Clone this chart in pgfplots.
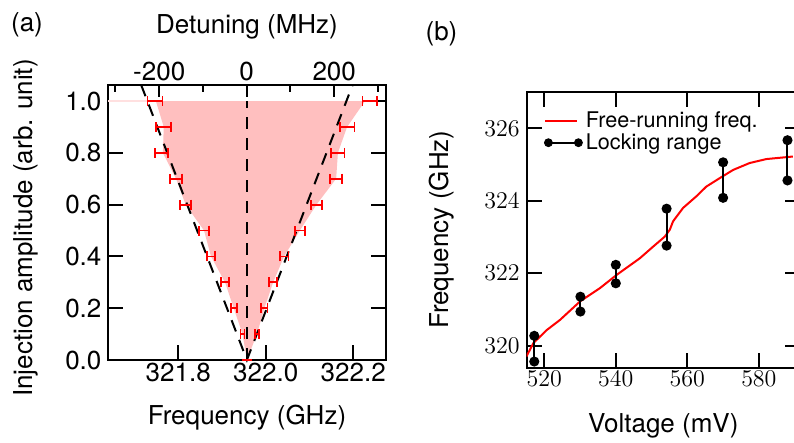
\documentclass[border=0pt]{standalone}
\usepackage{fontspec}
\setmainfont{TeX Gyre Heros}
\usepackage{pgfplots}
\pgfplotsset{compat=1.18}
\newcommand\fs{\fontsize{13}{13}\selectfont}
\newcommand\fl{\fontsize{10.8}{10.8}\selectfont}

\pgfplotsset{
  panel/.style={
    scale only axis,
    axis line style={line width=1pt},
    every tick/.style={black, line width=1pt},
    tick align=inside,
    tick label style={font=\fs},
    label style={font=\fs},
  },
}

\begin{document}
\begin{tikzpicture}
\useasboundingbox (0,0) rectangle (397pt,221.5pt);

\node[font=\fs] at (13.5pt,209.25pt) {(a)};
\node[font=\fs] at (220.75pt,204.75pt) {(b)};

% ---- (a) injection locking range vs amplitude
\begin{axis}[
  panel,
  at={(54.25pt,41.5pt)}, anchor=south west,
  width=138.5pt, height=137.5pt,
  xmin=321.6407, xmax=322.2738, ymin=0, ymax=1.062,
  xtick={321.8,322.0,322.2}, xticklabels={321.8,322.0,322.2},
  xtick pos=left,
  xticklabel style={yshift=2pt},
  ytick={0,0.2,0.4,0.6,0.8,1.0}, yticklabels={0.0,0.2,0.4,0.6,0.8,1.0},
  major tick length=7.5pt,
  xlabel={Frequency (GHz)}, ylabel={Injection amplitude (arb. unit)},
  xlabel style={at={(axis description cs:0.5,-0.208)}, anchor=center},
  ylabel style={at={(axis description cs:-0.30,0.48)}, anchor=center},
  clip=false,
]
% locking region
\addplot[fill=red!25, draw=none] coordinates {
  (321.749,1.0) (321.767,0.9) (321.765,0.8) (321.795,0.7) (321.817,0.6)
  (321.859,0.5) (321.875,0.4) (321.907,0.3) (321.927,0.2) (321.947,0.1)
  (321.957,0)
  (321.980,0.1) (321.997,0.2) (322.017,0.3) (322.042,0.4) (322.078,0.5)
  (322.116,0.6) (322.161,0.7) (322.165,0.8) (322.186,0.9) (322.227,1.0)
} -- cycle;
\addplot[red!12, line width=0.6pt] coordinates {(321.6407,1.0) (321.749,1.0)};

% guide lines
\addplot[black, line width=1pt, dash pattern=on 6pt off 4.5pt] coordinates {
  (321.7154,1.062) (321.957,0) (322.1986,1.062)};
\addplot[black, line width=1pt, dash pattern=on 6pt off 4.5pt] coordinates {
  (321.957,0) (321.957,1.0)};

% measured edges
\addplot[red, mark=none, draw=none,
  error bars/.cd, x dir=both, x explicit, error mark=|,
  error bar style={red, line width=0.9pt, solid},
  error mark options={red, mark size=2.5pt, line width=0.9pt, solid}]
coordinates {
  (321.747,1.0) +- (0.017,0)
  (321.767,0.9) +- (0.017,0)
  (321.762,0.8) +- (0.015,0)
  (321.795,0.7) +- (0.014,0)
  (321.817,0.6) +- (0.012,0)
  (321.859,0.5) +- (0.011,0)
  (321.875,0.4) +- (0.010,0)
  (321.907,0.3) +- (0.009,0)
  (321.927,0.2) +- (0.007,0)
  (321.947,0.1) +- (0.0045,0)
  (321.957,0.0) +- (0.0,0)
  (322.238,1.0) +- (0.017,0)
  (322.186,0.9) +- (0.017,0)
  (322.165,0.8) +- (0.015,0)
  (322.161,0.7) +- (0.014,0)
  (322.116,0.6) +- (0.012,0)
  (322.078,0.5) +- (0.011,0)
  (322.042,0.4) +- (0.010,0)
  (322.017,0.3) +- (0.009,0)
  (321.997,0.2) +- (0.007,0)
  (321.980,0.1) +- (0.0045,0)
};
\end{axis}

% detuning axis on top
\begin{axis}[
  panel,
  at={(54.25pt,41.5pt)}, anchor=south west,
  width=138.5pt, height=137.5pt,
  xmin=-315.9, xmax=317.2, ymin=0, ymax=1,
  axis x line*=top, axis y line=none,
  xtick={-200,0,200}, xticklabels={-200,0,200},
  xticklabel style={yshift=-1.5pt},
  minor xtick={-300,-100,100,300},
  major tick length=6pt, minor tick length=3.5pt,
  xlabel={Detuning (MHz)},
  xlabel style={at={(axis description cs:0.5,1.21)}, anchor=center},
]
\end{axis}

% ---- (b) frequency vs voltage
\begin{axis}[
  panel,
  at={(263.35pt,37.65pt)}, anchor=south west,
  width=136.65pt, height=138pt,
  xmin=515.08, xmax=591.5, ymin=319.39, ymax=327.01,
  xtick={520,540,560,580}, ytick={320,322,324,326},
  xticklabel style={yshift=2pt},
  major tick length=7.5pt,
  xlabel={Voltage (mV)}, ylabel={Frequency (GHz)},
  xlabel style={at={(axis description cs:0.5,-0.2114)}, anchor=center},
  ylabel style={at={(axis description cs:-0.311,0.5)}, anchor=center},
  legend style={draw=none, fill=none, font=\fl,
    at={(axis description cs:0.04,0.955)}, anchor=north west,
    row sep=-1.5pt, nodes={inner sep=1.5pt}},
  legend cell align=left,
]
\addplot[red, line width=1pt,
  legend image code/.code={\draw[red, line width=1pt] (0pt,0pt) -- (15.8pt,0pt);}]
coordinates {
  (515.0,319.70) (516.96,320.07) (520.7,320.43) (524.4,320.71) (530.0,321.22)
  (535.6,321.59) (540.2,321.95) (546.7,322.41) (550.4,322.73) (553.7,323.01)
  (555.1,323.20) (556.0,323.43) (558.8,323.80) (562.5,324.12) (565.3,324.39)
  (569.0,324.62) (572.8,324.85) (577.4,325.04) (582.1,325.15) (589.5,325.22)
};
\addlegendentry{Free-running freq.}
\addlegendimage{legend image code/.code={
  \draw[black, line width=1pt] (1.5pt,0pt) -- (16.5pt,0pt);
  \fill[black] (1.5pt,0pt) circle (2pt);
  \fill[black] (16.5pt,0pt) circle (2pt);}}
\addlegendentry{Locking range}

\pgfplotsset{lock/.style={black, line width=1pt, mark=*, mark size=2pt, forget plot}}
\addplot[lock] coordinates {(517.2,320.27) (517.2,319.56)};
\addplot[lock] coordinates {(530.1,321.35) (530.1,320.94)};
\addplot[lock] coordinates {(540.0,322.23) (540.0,321.72)};
\addplot[lock] coordinates {(554.2,323.78) (554.2,322.76)};
\addplot[lock] coordinates {(570.0,325.06) (570.0,324.08)};
\addplot[lock] coordinates {(588.0,325.67) (588.0,324.56)};
\end{axis}
\end{tikzpicture}
\end{document}
